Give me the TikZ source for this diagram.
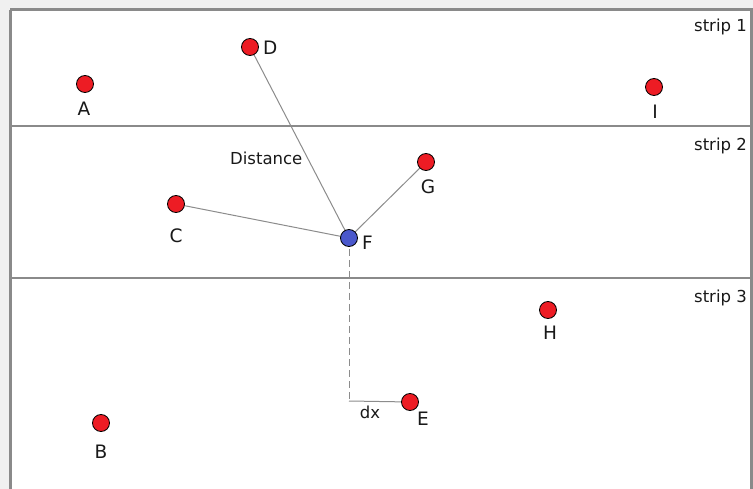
\documentclass[tikz,border=0pt]{standalone}
\usepackage{fontspec}
\setmainfont{DejaVu Sans}
\definecolor{ptred}{HTML}{ED1C24}
\definecolor{ptblue}{HTML}{4A58CC}
\definecolor{framegray}{HTML}{8A8A8A}
\definecolor{linegray}{HTML}{8C8C8C}
\definecolor{outbg}{HTML}{F0F0F0}
\begin{document}
\begin{tikzpicture}[x=1pt,y=-1pt,
  pt/.style={circle,draw=black,line width=0.8pt,fill=ptred,minimum size=17pt,inner sep=0pt},
  ptf/.style={pt,fill=ptblue},
  lbl/.style={font=\fontsize{18.5}{18.5}\selectfont,text=black!90,inner sep=0pt},
  small/.style={font=\fontsize{16.5}{16.5}\selectfont,text=black!90,inner sep=0pt},
  conn/.style={draw=linegray,line width=1pt},
  strip/.style={draw=framegray,line width=1.5pt}]
\useasboundingbox (0,0) rectangle (753,489);
\fill[outbg] (0,0) rectangle (753,489);
\fill[white] (10,10) rectangle (751,489);
\begin{scope}
\clip (0,0) rectangle (753,489);
\draw[draw=framegray,line width=3pt] (10,10) -- (751,10) -- (751,495);
\draw[draw=framegray,line width=3pt] (10,10) -- (10,495);
\end{scope}
\coordinate (s1l) at (10,126); \coordinate (s1r) at (751,126);
\coordinate (s2l) at (10,278); \coordinate (s2r) at (751,278);
\draw[strip] (s1l) -- (s1r);
\draw[strip] (s2l) -- (s2r);
% strip labels
\node[small,anchor=east] (st1) at (747,27) {strip 1};
\node[small,anchor=east] (st2) at (747,146) {strip 2};
\node[small,anchor=east] (st3) at (747,298) {strip 3};
% connectors first (under points)
\coordinate (Fc) at (349,238);
\coordinate (corner) at (349,401);
\coordinate (Dc) at (250,47);
\coordinate (Cc) at (176,204);
\coordinate (Gc) at (426,162);
\coordinate (Ec) at (410,402);
\draw[conn] (Fc) -- (Dc);
\draw[conn] (Fc) -- (Cc);
\draw[conn] (Fc) -- (Gc);
\draw[conn,dashed,dash pattern=on 7pt off 4pt] (Fc) -- (corner);
\draw[conn] (corner) -- (Ec);
% points
\node[pt] (A) at (85,84) {};
\node[pt] (D) at (Dc) {};
\node[pt] (I) at (654,87) {};
\node[pt] (G) at (Gc) {};
\node[pt] (C) at (Cc) {};
\node[ptf] (F) at (Fc) {};
\node[pt] (H) at (548,310) {};
\node[pt] (E) at (Ec) {};
\node[pt] (B) at (101,423) {};
% labels
\node[lbl] (lA) at (84,109) {A};
\node[lbl,anchor=west] (lD) at (263,48) {D};
\node[lbl] (lI) at (655,112) {I};
\node[lbl] (lG) at (428,187) {G};
\node[lbl] (lC) at (176,236) {C};
\node[lbl,anchor=west] (lF) at (362,243) {F};
\node[lbl] (lH) at (550,333) {H};
\node[lbl,anchor=west] (lE) at (417,419) {E};
\node[lbl] (lB) at (101,452) {B};
\node[small,anchor=west] (dist) at (230,158) {Distance};
\node[small] (dx) at (370,412) {dx};
\end{tikzpicture}
\end{document}
